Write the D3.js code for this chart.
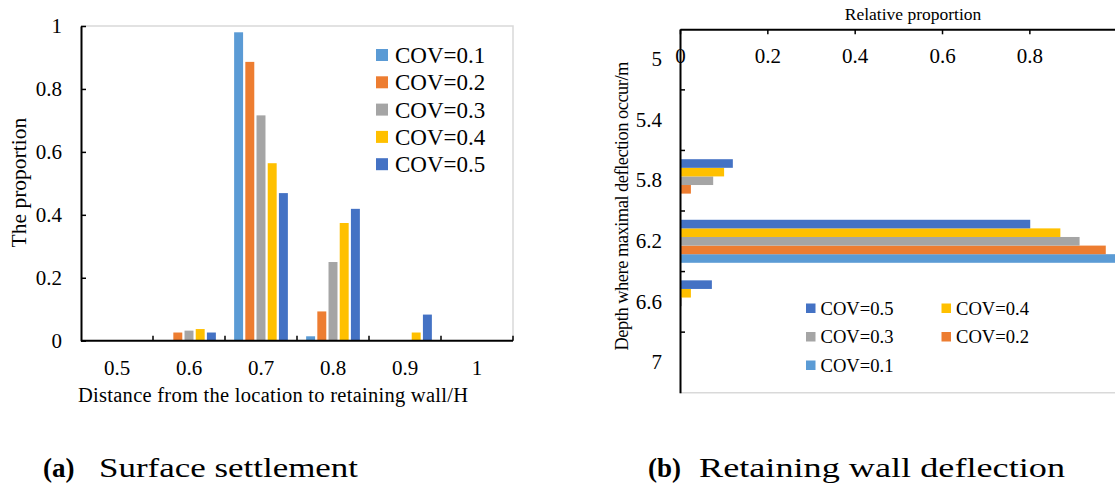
<!DOCTYPE html>
<html lang="en">
<head>
<meta charset="UTF-8">
<script src="https://cdnjs.cloudflare.com/ajax/libs/d3/7.8.5/d3.min.js"></script>
<style>
  body { margin: 0; background: #fff; }
</style>
</head>
<body>
<svg id="chart" width="1115" height="484"></svg>
<script>
// ---- data ----
var covLabels = ["COV=0.1", "COV=0.2", "COV=0.3", "COV=0.4", "COV=0.5"];
var covColors = ["#5B9BD5", "#ED7D31", "#A5A5A5", "#FFC000", "#4472C4"];

// (a) surface settlement
var distCats = ["0.5", "0.6", "0.7", "0.8", "0.9", "1"];
var settleCov1 = [0, 0, 0.980, 0.014, 0, 0];
var settleCov2 = [0, 0.026, 0.886, 0.093, 0, 0];
var settleCov3 = [0, 0.032, 0.716, 0.250, 0, 0];
var settleCov4 = [0, 0.037, 0.564, 0.374, 0.026, 0];
var settleCov5 = [0, 0.026, 0.469, 0.419, 0.083, 0];
var settleTicks = [0, 0.2, 0.4, 0.6, 0.8, 1];

// (b) wall deflection
var depthCats = ["5", "5.4", "5.8", "6.2", "6.6", "7"];
var deflCov1 = [0, 0, 0, 1.0, 0, 0];
var deflCov2 = [0, 0, 0.025, 0.975, 0, 0];
var deflCov3 = [0, 0, 0.076, 0.915, 0.004, 0];
var deflCov4 = [0, 0, 0.101, 0.871, 0.025, 0];
var deflCov5 = [0, 0, 0.121, 0.802, 0.073, 0];
var deflTicks = [0, 0.2, 0.4, 0.6, 0.8];   // 1 and up fall outside the cropped figure

var settleSeries = [settleCov1, settleCov2, settleCov3, settleCov4, settleCov5];
var deflSeries = [deflCov1, deflCov2, deflCov3, deflCov4, deflCov5];

var FONT = '"Liberation Serif", "Times New Roman", "DejaVu Serif", serif';
var svg = d3.select("#chart");

// ================= (a) =================
var gA = svg.append("g");
var x0 = d3.scaleBand().domain(distCats).range([81, 513]);
var x1 = d3.scaleBand().domain(covLabels).range([0, x0.bandwidth()])
    .paddingInner(0.2).paddingOuter(0.815);
var yA = d3.scaleLinear().domain([0, 1]).range([340.7, 26]);

// frame (top / right light grey)
gA.append("path")
    .attr("d", "M" + x0.range()[0] + "," + yA(1) + "H" + x0.range()[1] + "V" + yA(0))
    .attr("fill", "none").attr("stroke", "#d9d9d9").attr("stroke-width", 1.5);

// bars
settleSeries.forEach(function (vals, si) {
    gA.selectAll(".barA" + si)
        .data(vals.map(function (v, i) { return {cat: distCats[i], v: v}; }).filter(function (d) { return d.v > 0; }))
        .enter().append("rect")
        .attr("x", function (d) { return x0(d.cat) + x1(covLabels[si]); })
        .attr("width", x1.bandwidth())
        .attr("y", function (d) { return yA(d.v); })
        .attr("height", function (d) { return yA(0) - yA(d.v); })
        .attr("fill", covColors[si]);
});

// y axis
var axA = gA.append("g").attr("transform", "translate(" + x0.range()[0] + ",0)")
    .call(d3.axisLeft(yA).tickValues(settleTicks).tickFormat(function (d) { return String(d); })
        .tickSizeInner(-5).tickSizeOuter(0).tickPadding(19));
axA.select(".domain").attr("stroke", "#000").attr("stroke-width", 2);
axA.selectAll(".tick line").attr("stroke", "#000").attr("stroke-width", 1.5);
axA.selectAll("text").style("font-size", "21px");

// x axis: labels at band centres, ticks at band edges
var axB = gA.append("g").attr("transform", "translate(0," + yA(0) + ")")
    .call(d3.axisBottom(x0).tickSize(0).tickPadding(19));
axB.select(".domain").remove();
axB.selectAll("text").style("font-size", "21px");
gA.append("line").attr("x1", x0.range()[0]).attr("x2", x0.range()[1])
    .attr("y1", yA(0)).attr("y2", yA(0)).attr("stroke", "#000").attr("stroke-width", 2);
gA.selectAll(".edgeTick").data(distCats).enter().append("line")
    .attr("x1", function (d) { return x0(d) + x0.bandwidth(); })
    .attr("x2", function (d) { return x0(d) + x0.bandwidth(); })
    .attr("y1", yA(0)).attr("y2", yA(0) - 5)
    .attr("stroke", "#000").attr("stroke-width", 1.5);

// titles
gA.append("text").attr("transform", "translate(19,182.6) rotate(-90)")
    .attr("text-anchor", "middle").attr("dominant-baseline", "central")
    .style("font-size", "21.5px").text("The proportion");
gA.append("text").attr("x", 78).attr("y", 402)
    .attr("textLength", 390).attr("lengthAdjust", "spacing")
    .style("font-size", "20.5px").text("Distance from the location to retaining wall/H");

// legend
var legA = gA.selectAll(".legA").data(covLabels).enter().append("g")
    .attr("transform", function (d, i) { return "translate(376," + (55 + i * 27.3) + ")"; });
legA.append("rect").attr("x", 0).attr("y", -6).attr("width", 12).attr("height", 12)
    .attr("fill", function (d, i) { return covColors[i]; });
legA.append("text").attr("x", 19).attr("dy", "0.35em").style("font-size", "23px")
    .text(function (d) { return d; });

// ================= (b) =================
var gB = svg.append("g");
var xR = d3.scaleLinear().domain([0, 1.2]).range([680, 680 + 1.2 * 436.7]);
var yR0 = d3.scaleBand().domain(depthCats).range([29.3, 392.7]);
var covRev = covLabels.slice().reverse();
var yR1 = d3.scaleBand().domain(covRev).range([0, yR0.bandwidth()]).paddingInner(0).paddingOuter(1.02);

// bottom light grey border
gB.append("line").attr("x1", xR(0)).attr("x2", xR.range()[1])
    .attr("y1", yR0.range()[1]).attr("y2", yR0.range()[1])
    .attr("stroke", "#d9d9d9").attr("stroke-width", 1.5);

deflSeries.forEach(function (vals, si) {
    gB.selectAll(".barB" + si)
        .data(vals.map(function (v, i) { return {cat: depthCats[i], v: v}; }).filter(function (d) { return d.v > 0; }))
        .enter().append("rect")
        .attr("y", function (d) { return yR0(d.cat) + yR1(covLabels[si]); })
        .attr("height", yR1.bandwidth())
        .attr("x", xR(0))
        .attr("width", function (d) { return xR(d.v) - xR(0); })
        .attr("fill", covColors[si]);
});

// top value axis, labels inside
var axT = gB.append("g").attr("transform", "translate(0," + yR0.range()[0] + ")")
    .call(d3.axisTop(xR).tickValues(deflTicks).tickFormat(function (d) { return String(d); })
        .tickSizeInner(-5).tickSizeOuter(0));
axT.select(".domain").attr("stroke", "#000").attr("stroke-width", 2);
axT.selectAll(".tick line").attr("stroke", "#000").attr("stroke-width", 1.5);
axT.selectAll("text").attr("y", 26).attr("dy", "0.35em").style("font-size", "21px");

// category axis
var axL = gB.append("g").attr("transform", "translate(" + xR(0) + ",0)")
    .call(d3.axisLeft(yR0).tickSize(0).tickPadding(18));
axL.select(".domain").attr("stroke", "#000").attr("stroke-width", 2);
axL.selectAll("text").style("font-size", "21px");
gB.selectAll(".edgeTickB").data(depthCats.slice(0, -1)).enter().append("line")
    .attr("y1", function (d) { return yR0(d) + yR0.bandwidth(); })
    .attr("y2", function (d) { return yR0(d) + yR0.bandwidth(); })
    .attr("x1", xR(0)).attr("x2", xR(0) + 5)
    .attr("stroke", "#000").attr("stroke-width", 1.5);

// titles
gB.append("text").attr("x", 913).attr("y", 20).attr("text-anchor", "middle")
    .style("font-size", "17.5px").text("Relative proportion");
gB.append("text").attr("transform", "translate(621.7,206) rotate(-90)")
    .attr("text-anchor", "middle").attr("dominant-baseline", "central")
    .attr("textLength", 289).attr("lengthAdjust", "spacing")
    .style("font-size", "18.5px").text("Depth where maximal deflection occur/m");

// legend (two columns, newest series first)
var legB = gB.selectAll(".legB").data(covRev).enter().append("g")
    .attr("transform", function (d, i) {
        return "translate(" + (i % 2 === 0 ? 806 : 941.5) + "," + (308 + Math.floor(i / 2) * 28.5) + ")";
    });
legB.append("rect").attr("x", 0).attr("y", -4.5).attr("width", 9.5).attr("height", 9.5)
    .attr("fill", function (d) { return covColors[covLabels.indexOf(d)]; });
legB.append("text").attr("x", 14.5).attr("dy", "0.35em").style("font-size", "18.6px")
    .text(function (d) { return d; });

// ================= captions =================
svg.append("text").attr("x", 43).attr("y", 477).style("font-size", "27px").style("font-weight", "bold").text("(a)");
svg.append("text").attr("x", 99).attr("y", 477).style("font-size", "27px")
    .attr("textLength", 259).attr("lengthAdjust", "spacingAndGlyphs").text("Surface  settlement");
svg.append("text").attr("x", 648).attr("y", 477).style("font-size", "27px").style("font-weight", "bold").text("(b)");
svg.append("text").attr("x", 699).attr("y", 477).style("font-size", "27px")
    .attr("textLength", 366).attr("lengthAdjust", "spacingAndGlyphs").text("Retaining  wall  deflection");

// one serif face for every label
svg.selectAll("g").attr("font-family", null);
svg.selectAll("text").style("font-family", FONT).attr("fill", "#000");
</script>
</body>
</html>
